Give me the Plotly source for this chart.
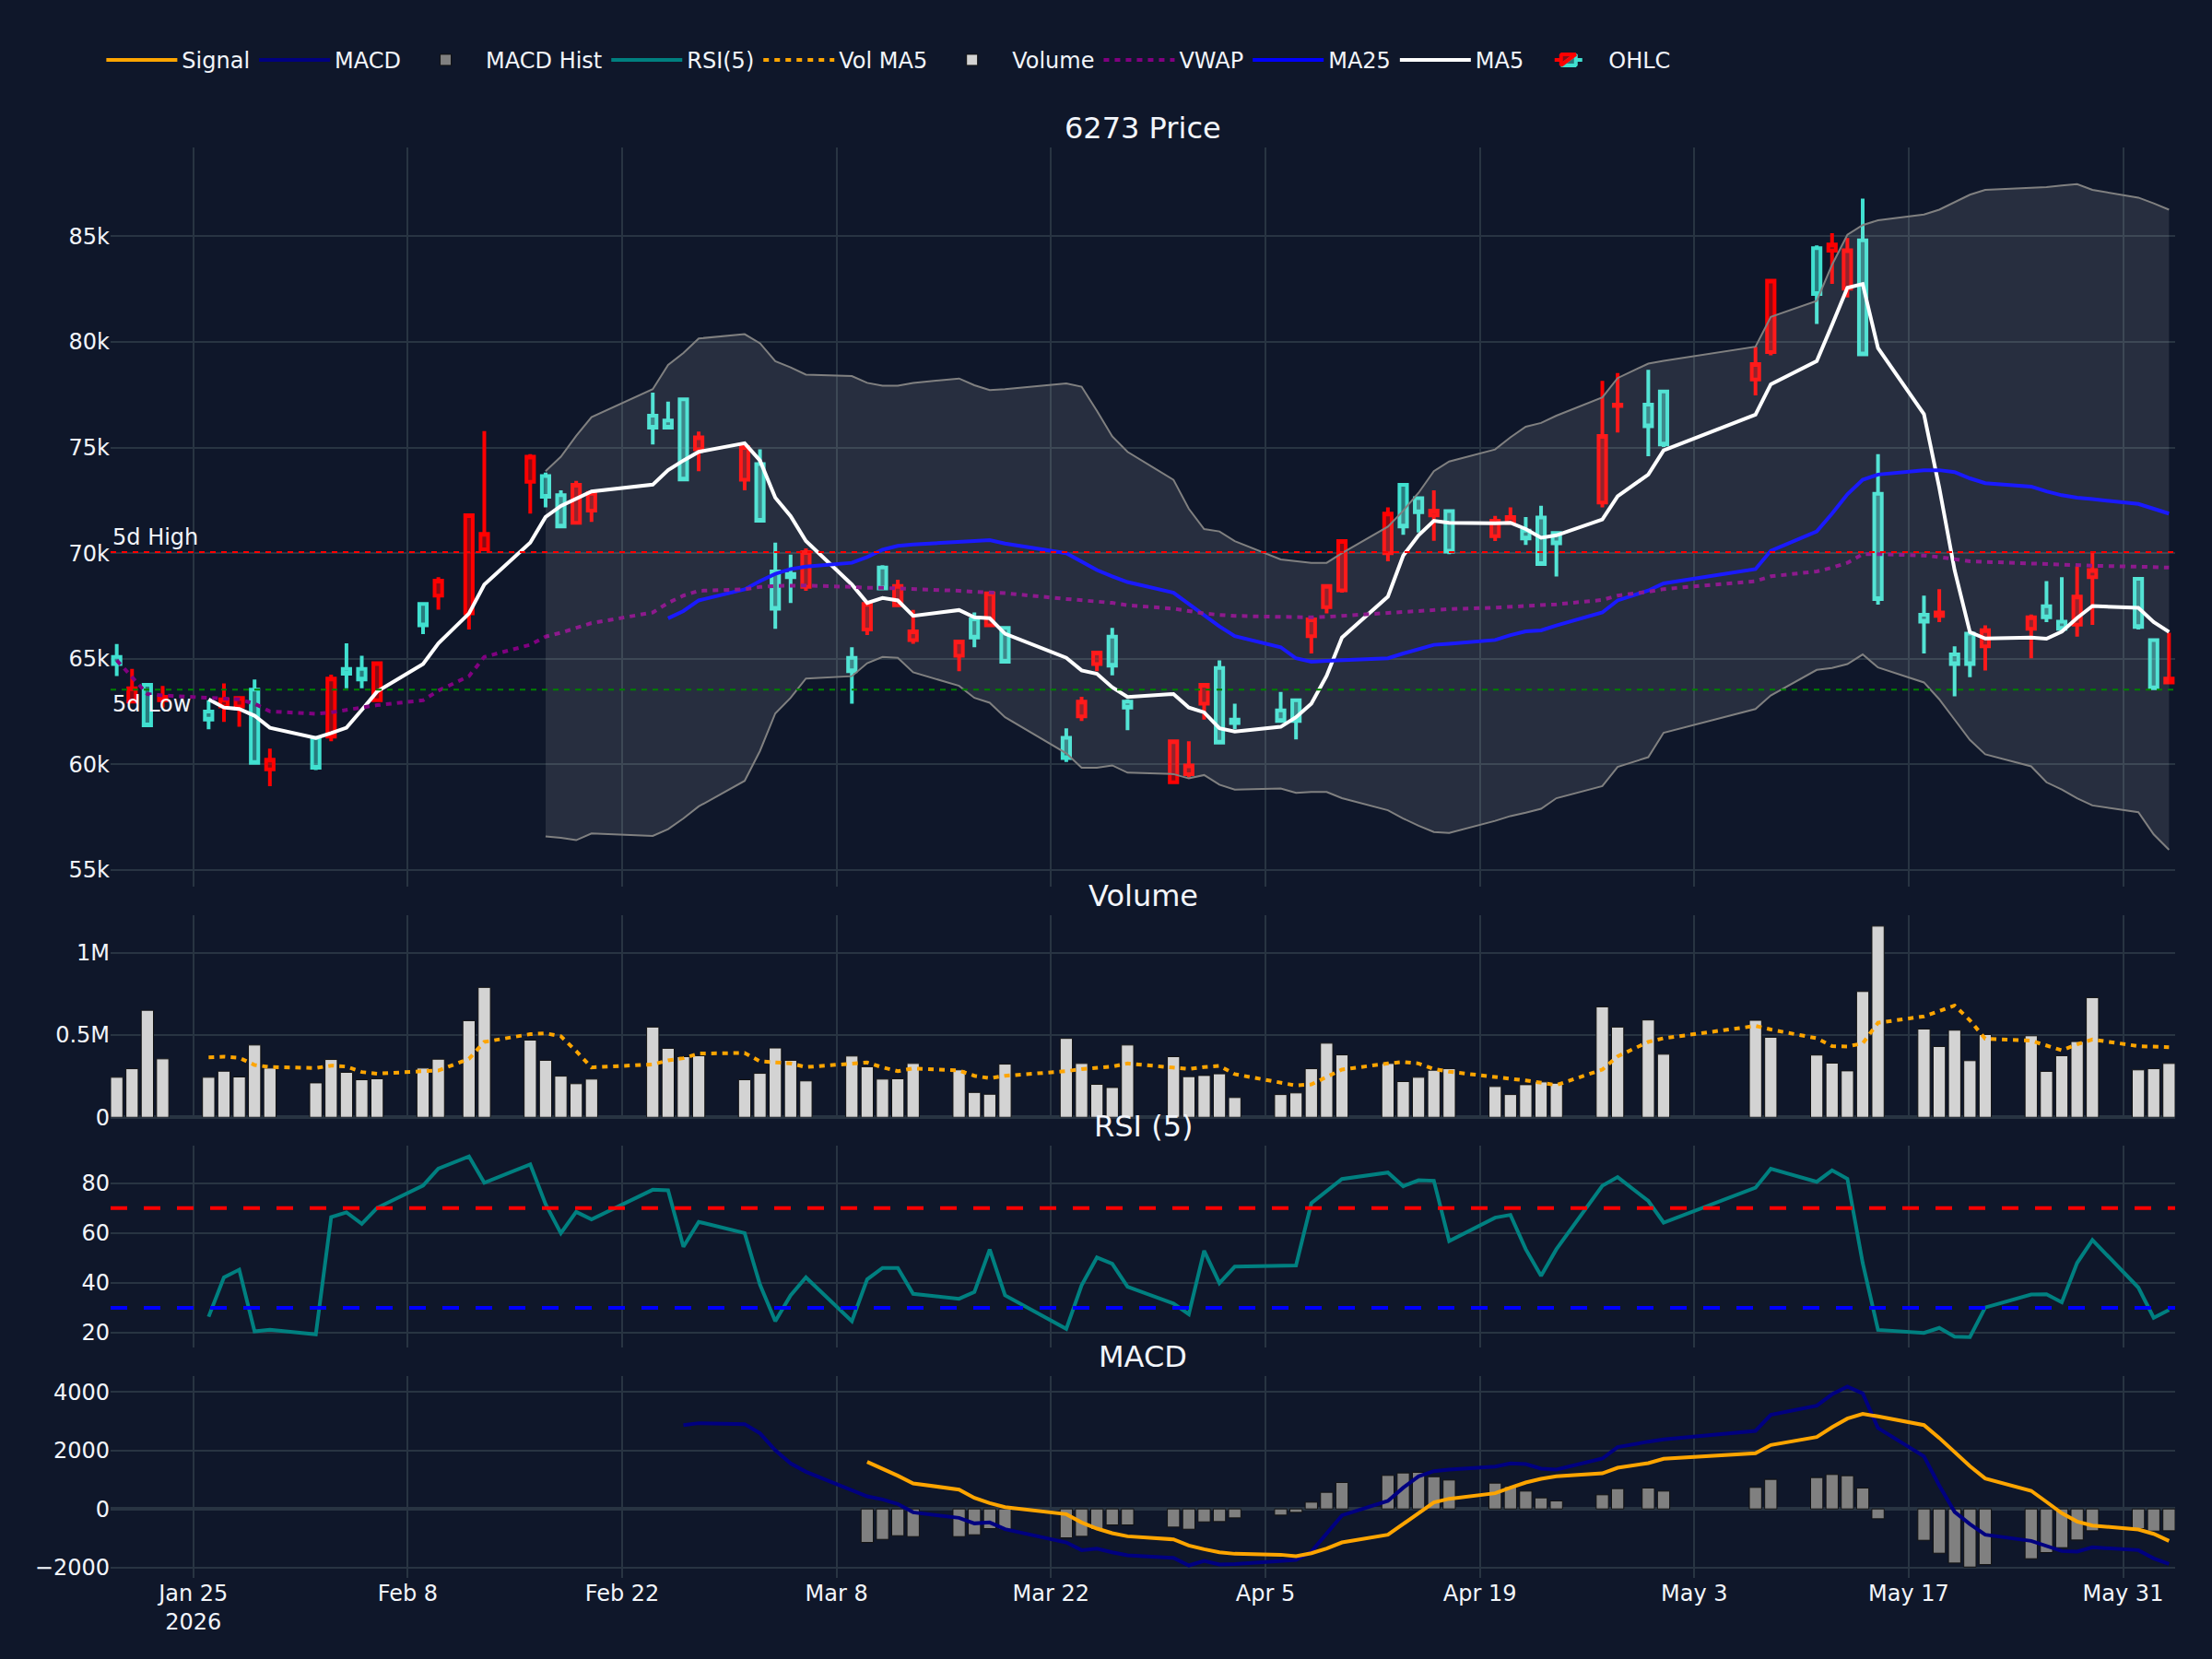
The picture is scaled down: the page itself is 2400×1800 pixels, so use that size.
import plotly.graph_objects as go
from plotly.subplots import make_subplots

N = None

dates = (
    ["2026-01-%02d" % d for d in [20, 21, 22, 23, 26, 27, 28, 29, 30]]
    + ["2026-02-%02d" % d for d in [2, 3, 4, 5, 6, 9, 10, 12, 13, 16, 17, 18, 19, 20, 24, 25, 26, 27]]
    + ["2026-03-%02d" % d for d in [2, 3, 4, 5, 6, 9, 10, 11, 12, 13, 16, 17, 18, 19, 23, 24, 25, 26, 27, 30, 31]]
    + ["2026-04-%02d" % d for d in [1, 2, 3, 6, 7, 8, 9, 10, 13, 14, 15, 16, 17, 20, 21, 22, 23, 24, 27, 28, 30]]
    + ["2026-05-%02d" % d for d in [1, 7, 8, 11, 12, 13, 14, 15, 18, 19, 20, 21, 22, 25, 26, 27, 28, 29]]
    + ["2026-06-%02d" % d for d in [1, 2, 3]]
)

open_ = [
    65090, 62970, 63770, 63040, 62510, 62740, 62740, 63540, 59770,
    61250, 61320, 64520, 64520, 63040, 67600, 67990, 67150, 70180, 73380, 73650, 72740, 71440, 72010, 76510, 76280, 77280, 74910,
    73470, 74220, 69130, 69020, 68400, 65050, 66390, 69320, 67530, 65890, 65140, 66870, 66580, 66460, 61260, 62280, 64750, 66050, 62970, 59160, 59540,
    62880, 64570, 62120, 62560, 63040, 66070, 67440, 68240, 70000, 73240, 72600, 71780, 71990, 70800, 71440, 71070, 71690, 70960, 72400, 76960, 77030,
    77650, 78220, 79520, 84430, 84320, 82510, 84800, 72810, 67080, 67030, 65210, 66190, 65590, 66420, 67490, 66760, 66620, 68860,
    68790, 65890, 63880,
]
high = [
    65700, 64520, 63800, 63720, 63040, 63840, 63150, 64020, 60750,
    61250, 64250, 65730, 65140, 64800, 67600, 68860, 71800, 75780, 74680, 73810, 72970, 73420, 72970, 77600, 77170, 77280, 75750,
    75020, 74910, 70500, 69930, 70230, 65550, 67700, 69430, 68740, 67310, 65890, 67190, 68100, 66460, 61710, 63200, 65300, 66460, 63080, 61100, 61100,
    63840, 64930, 62880, 63430, 63080, 66920, 68520, 70570, 72170, 73240, 72600, 72970, 72010, 71760, 72170, 71710, 72240, 70960, 78150, 78520, 78680,
    77700, 79770, 82900, 84570, 85140, 84910, 86780, 74680, 67990, 68290, 65590, 66230, 66580, 67100, 68680, 68860, 69380, 70050,
    68860, 65960, 66230,
]
low = [
    64180, 62950, 61830, 62690, 61670, 62010, 61780, 60000, 58970,
    59730, 61100, 63610, 63610, 62970, 66170, 67330, 66390, 70180, 71870, 72170, 71260, 71440, 71480, 75140, 75940, 73490, 73880,
    72970, 71530, 66420, 67640, 68220, 62880, 66120, 68290, 67490, 65710, 64410, 65550, 66580, 64860, 60120, 62060, 64410, 64220, 61620, 59090, 59380,
    62120, 60980, 61670, 62060, 61190, 65250, 67150, 68130, 69610, 70870, 70980, 70590, 69950, 70570, 71370, 70390, 69430, 68900, 72170, 75710, 74590,
    75020, 77470, 79360, 80850, 82740, 82100, 79410, 67560, 65250, 66740, 63220, 64130, 64450, 65020, 66740, 66420, 66050, 66600,
    66390, 63540, 63880,
]
close = [
    64750, 63610, 61850, 63200, 62120, 63080, 63150, 60070, 60230,
    59840, 64060, 64290, 64020, 64800, 66580, 68700, 71800, 70910, 74570, 72670, 71260, 73240, 72850, 75940, 75940, 73490, 75480,
    75020, 71530, 67370, 68860, 70050, 64410, 67600, 68330, 68450, 66300, 65820, 66000, 68100, 64860, 60300, 62970, 65300, 64680, 62690, 61100, 59950,
    63770, 61030, 61960, 62060, 62060, 66870, 68450, 70570, 71870, 71260, 71940, 72010, 70070, 71530, 71710, 70690, 69480, 70460, 75550, 77030, 76000,
    75140, 78950, 82900, 82260, 84610, 84340, 79410, 67830, 66760, 67190, 64750, 64750, 66350, 66960, 66960, 66420, 67950, 69200,
    66510, 63610, 64060,
]

ma5 = [
    N, N, N, N, 63082, 62694, 62626, 62306, 61735,
    61256, 61484, 61735, 62580, 63447, 64749, 65731, 67146, 68516, 70502, 71712, 72238, 72557, 72922, 73242, 73927, 74384, 74795,
    75206, 74384, 72626, 71758, 70571, 68516, 67648, 67876, 67762, 67032, 67306, 66963, 66918, 66187, 65046, 64452, 64292, 63653, 63196, 63333, 62694,
    62466, 61713, 61553, 61781, 62237, 62876, 64200, 66005, 67945, 69886, 70845, 71530, 71439, 71416, 71439, 71141, 70731, 70845, 71598, 72694, 73721,
    74863, 76553, 77991, 79087, 80800, 82557, 82740, 79703, 76575, 73100, 69200, 66260, 65960, 66000, 65950, 66290, 66930, 67500,
    67410, 66740, 66270,
]
ma25 = [
    N, N, N, N, N, N, N, N, N,
    N, N, N, N, N, N, N, N, N, N, N, N, N, N, N, 66918, 67260, 67762,
    68287, 68675, 69017, 69247, 69361, 69543, 69817, 70160, 70342, 70411, 70502, 70571, 70616, 70457, 70000, 69589, 69201, 68904, 68630, 68128, 67603,
    67078, 66530, 66073, 65548, 65023, 64863, 64909, 64932, 65023, 65251, 65434, 65662, 65708, 65890, 66119, 66302, 66347, 66576, 67192, 67762, 68230,
    68570, 69247, 70114, 71027, 71872, 72785, 73470, 73721, 73927, 73927, 73836, 73539, 73310, 73151, 72922, 72740, 72626, 72557,
    72329, 72100, 71872,
]
bb_upper = [
    N, N, N, N, N, N, N, N, N,
    N, N, N, N, N, N, N, N, N, N, 73881, 74566, 75548, 76438, 77763, 78904, 79475, 80160,
    80365, 79932, 79087, 78790, 78448, 78379, 78059, 77922, 77922, 78059, 78265, 77945, 77717, 77763, 78036, 77877, 76735, 75525, 74795, 73470, 72100,
    71142, 71027, 70571, 69703, 69612, 69543, 69543, 70000, 71256, 72010, 72854, 73881, 74338, 74909, 75480, 75982, 76164, 76507, 77374, 78287, 78972,
    79100, 79772, 81187, 81941, 83653, 85068, 85525, 85753, 86027, 86256, 86598, 86963, 87192, 87283, 87329, 87397, 87466, 87192,
    86826, 86553, 86256,
]
bb_lower = [
    N, N, N, N, N, N, N, N, N,
    N, N, N, N, N, N, N, N, N, N, 56598, 56530, 56416, 56735, 56621, 56940, 57443, 58014,
    59224, 60640, 62420, 63150, 64064, 64178, 64794, 65091, 65046, 64361, 63721, 63150, 62922, 62237, 60525, 59840, 59840, 59954, 59612, 59543, 59338,
    59498, 59041, 58813, 58858, 58653, 58698, 58698, 58402, 57831, 57443, 57100, 56804, 56758, 57329, 57557, 57717, 57900, 58402, 58973, 59886, 60343,
    61500, 62626, 63265, 64475, 64566, 64749, 65206, 64589, 63881, 63082, 62123, 61164, 60480, 59909, 59155, 58813, 58402, 58060,
    57740, 56689, 55959,
]
vwap = [
    64932, 64110, 63333, 63265, 63150, 63105, 63082, 62876, 62511,
    62397, 62466, 62580, 62694, 62808, 63036, 63493, 64178, 65091, 65662, 66050, 66233, 66461, 66690, 67192, 67648, 67991, 68219,
    68287, 68402, 68447, 68470, 68470, 68402, 68356, 68356, 68333, 68287, 68219, 68173, 68128, 68105, 67831, 67762, 67717, 67648, 67534, 67374, 67260,
    67146, 67078, 67032, 66986, 66963, 66963, 66986, 67032, 67146, 67192, 67260, 67306, 67352, 67420, 67466, 67488, 67534, 67580, 67785, 67991, 68173,
    68300, 68675, 68904, 69133, 69315, 69543, 69954, 69954, 69886, 69817, 69726, 69612, 69589, 69498, 69475, 69452, 69430, 69407,
    69361, 69338, 69315,
]
high_5d = 70050
low_5d = 63540

volume = [
    243000, 295000, 650000, 355000, 243000, 280000, 245000, 439000, 299000,
    209000, 351000, 273000, 228000, 234000, 299000, 353000, 587000, 789000, 469000, 346000, 250000, 204000, 232000, 548000, 419000, 368000, 374000,
    228000, 267000, 421000, 346000, 221000, 372000, 307000, 232000, 234000, 327000, 288000, 151000, 140000, 323000, 479000, 327000, 200000, 181000, 439000, 368000, 247000,
    254000, 264000, 120000, 138000, 148000, 295000, 450000, 379000, 327000, 217000, 243000, 286000, 295000, 187000, 138000, 198000, 215000, 207000, 671000, 548000, 591000,
    383000, 589000, 486000, 378000, 329000, 282000, 764000, 1161000, 536000, 430000, 529000, 344000, 503000, 495000, 279000, 374000, 460000, 727000,
    288000, 295000, 327000,
]
vol_ma5 = [
    N, N, N, N, 364000, 368000, 361000, 318000, 305000,
    299000, 314000, 308000, 275000, 265000, 280000, 284000, 355000, 458000, 505000, 510000, 492000, 402000, 303000, 321000, 346000, 359000, 387000,
    391000, 340000, 331000, 327000, 305000, 325000, 333000, 303000, 280000, 297000, 284000, 252000, 237000, 252000, 280000, 293000, 299000, 308000, 327000, 303000, 293000,
    305000, 312000, 262000, 211000, 193000, 200000, 243000, 290000, 327000, 336000, 327000, 293000, 277000, 241000, 234000, 224000, 209000, 196000, 290000, 370000, 458000,
    480000, 555000, 533000, 480000, 432000, 430000, 449000, 574000, 613000, 645000, 679000, 589000, 477000, 465000, 436000, 407000, 443000, 473000,
    432000, 430000, 426000,
]

rsi = [
    N, N, N, N, 26.4, 42.2, 45.3, 20.5, 21.2,
    19.3, 66.4, 68.3, 63.7, 70.1, 79.1, 85.9, 90.8, 80.2, 87.6, 71.6, 60.0, 68.5, 65.5, 77.4, 77.2, 54.5, 64.5,
    60.0, 39.3, 24.6, 35.0, 42.2, 24.6, 41.4, 46.0, 46.0, 35.6, 33.6, 36.3, 53.4, 35.0, 21.5, 39.0, 50.2, 47.7, 38.4, 31.7, 27.4,
    52.9, 39.9, 46.5, 46.9, 47.0, 72.0, 76.9, 81.7, 84.3, 78.8, 81.2, 81.0, 56.8, 66.2, 67.3, 53.5, 42.8, 53.5, 79.0, 82.5, 72.9,
    64.2, 78.2, 85.8, 80.6, 85.2, 81.8, 48.0, 21.1, 19.9, 21.9, 18.4, 18.2, 30.1, 35.3, 35.4, 32.2, 48.0, 57.2,
    38.1, 26.0, 29.1,
]
rsi_upper = 70
rsi_lower = 30

macd = [
    N, N, N, N, N, N, N, N, N,
    N, N, N, N, N, N, N, N, N, N, N, N, N, N, N, N, 2866, 2930,
    2898, 2583, 2006, 1554, 1271, 641, 431, 326, 168, -116, -305, -494, -462, -693, -1145, -1407, -1355, -1481, -1586, -1670, -1932,
    -1775, -1901, -1880, -1775, -1743, -1460, -830, -221, 273, 725, 1113, 1292, 1344, 1449, 1554, 1533, 1376, 1344, 1722, 2111, 2300,
    2373, 2667, 3213, 3528, 3917, 4179, 3948, 2762, 1796, 800, -100, -515, -882, -1092, -1250, -1439, -1460, -1313,
    -1407, -1691, -1880,
]
signal = [
    N, N, N, N, N, N, N, N, N,
    N, N, N, N, N, N, N, N, N, N, N, N, N, N, N, N, N, N,
    N, N, N, N, N, N, 1607, 1376, 1134, 872, 662, 378, 200, 63, -179, -462, -672, -830, -935, -1040, -1250,
    -1376, -1481, -1533, -1565, -1617, -1512, -1355, -1145, -882, -515, -147, 221, 347, 536, 725, 903, 1029, 1113, 1218, 1407, 1565,
    1712, 1901, 2184, 2457, 2793, 3087, 3245, 3161, 2866, 2426, 1953, 1460, 1040, 620, 242, -147, -431, -567,
    -704, -851, -1092,
]
macd_hist = [
    N, N, N, N, N, N, N, N, N,
    N, N, N, N, N, N, N, N, N, N, N, N, N, N, N, N, N, N,
    N, N, N, N, N, N, -1145, -1040, -914, -945, -945, -882, -672, -693, -987, -935, -704, -546, -546, -620, -693,
    -441, -431, -305, -210, -116, 231, 567, 903, 1145, 1229, 1250, 1100, 987, 882, 767, 609, 378, 273, 483, 693, 714,
    609, 735, 1008, 1071, 1176, 1134, 714, -336, -1071, -1512, -1848, -1985, -1901, -1701, -1491, -1323, -1061, -746,
    -672, -756, -746,
]

BG = "#0f172a"
GRID = "#283442"

fig = make_subplots(
    rows=4, cols=1, shared_xaxes=True, vertical_spacing=0.02,
    row_heights=[0.55, 0.15, 0.15, 0.15],
    subplot_titles=("6273 Price", "Volume", "RSI (5)", "MACD"),
)
for a in fig.layout.annotations:
    a.font = dict(size=32, family="DejaVu Sans")

fig.add_trace(go.Candlestick(
    x=dates, open=open_, high=high, low=low, close=close, name="OHLC",
    increasing=dict(line=dict(color="red", width=4)),
    decreasing=dict(line=dict(color="turquoise", width=4)),
), row=1, col=1)
fig.add_trace(go.Scatter(x=dates, y=ma5, mode="lines", name="MA5",
                         line=dict(color="white", width=4)), row=1, col=1)
fig.add_trace(go.Scatter(x=dates, y=ma25, mode="lines", name="MA25",
                         line=dict(color="blue", width=4)), row=1, col=1)
fig.add_trace(go.Scatter(x=dates, y=vwap, mode="lines", name="VWAP",
                         line=dict(color="purple", width=4, dash="6px,6px")), row=1, col=1)
fig.add_trace(go.Scatter(x=dates, y=bb_upper, mode="lines", name="BB Upper", showlegend=False,
                         line=dict(color="gray", width=2)), row=1, col=1)
fig.add_trace(go.Scatter(x=dates, y=bb_lower, mode="lines", name="BB Lower", showlegend=False,
                         line=dict(color="gray", width=2), fill="tonexty",
                         fillcolor="rgba(255,255,255,0.1)"), row=1, col=1)

fig.add_trace(go.Bar(x=dates, y=volume, name="Volume", marker=dict(color="lightgray",
                     line=dict(color="rgb(17,17,17)", width=1))), row=2, col=1)
fig.add_trace(go.Scatter(x=dates, y=vol_ma5, mode="lines", name="Vol MA5",
                         line=dict(color="orange", width=4, dash="6px,6px")), row=2, col=1)

fig.add_trace(go.Scatter(x=dates, y=rsi, mode="lines", name="RSI(5)",
                         line=dict(color="teal", width=4)), row=3, col=1)

fig.add_trace(go.Bar(x=dates, y=macd_hist, name="MACD Hist", marker=dict(color="gray",
                     line=dict(color="rgb(17,17,17)", width=1))), row=4, col=1)
fig.add_trace(go.Scatter(x=dates, y=macd, mode="lines", name="MACD",
                         line=dict(color="navy", width=4)), row=4, col=1)
fig.add_trace(go.Scatter(x=dates, y=signal, mode="lines", name="Signal",
                         line=dict(color="orange", width=4)), row=4, col=1)

fig.add_hline(y=high_5d, line=dict(color="red", width=2, dash="6px,6px"),
              annotation_text="5d High", annotation_position="top left",
              annotation_font=dict(size=24), row=1, col=1)
fig.add_hline(y=low_5d, line=dict(color="green", width=2, dash="6px,6px"),
              annotation_text="5d Low", annotation_position="bottom left",
              annotation_font=dict(size=24), row=1, col=1)
fig.add_hline(y=rsi_upper, line=dict(color="red", width=4, dash="18px,18px"), row=3, col=1)
fig.add_hline(y=rsi_lower, line=dict(color="blue", width=4, dash="18px,18px"), row=3, col=1)

fig.update_layout(
    template="plotly_dark",
    width=2400, height=1800,
    paper_bgcolor=BG, plot_bgcolor=BG,
    font=dict(family="DejaVu Sans", size=24, color="#f2f5fa"),
    margin=dict(l=120, r=40, t=160, b=88),
    legend=dict(orientation="h", x=-0.0043, xanchor="left", y=1.061, yanchor="middle",
                traceorder="reversed", itemwidth=77, font=dict(size=24),
                bgcolor="rgba(0,0,0,0)"),
    bargap=0.2,
    xaxis_rangeslider_visible=False,
)
fig.update_xaxes(
    type="date", range=["2026-01-19 14:24", "2026-06-03 09:36"],
    tick0="2026-01-25", dtick=14 * 86400000,
    showgrid=True, gridcolor=GRID, gridwidth=2, tickfont=dict(size=24),
)
fig.update_yaxes(showgrid=True, gridcolor=GRID, gridwidth=2,
                 zerolinecolor=GRID, zerolinewidth=4, tickfont=dict(size=24))
fig.update_yaxes(range=[54200, 89200], dtick=5000, row=1, col=1)
fig.update_yaxes(range=[0, 1225000], dtick=500000, row=2, col=1)
fig.update_yaxes(range=[14, 95], dtick=20, row=3, col=1)
fig.update_yaxes(range=[-2356, 4535], dtick=2000, row=4, col=1)

fig.write_html("out.html")
